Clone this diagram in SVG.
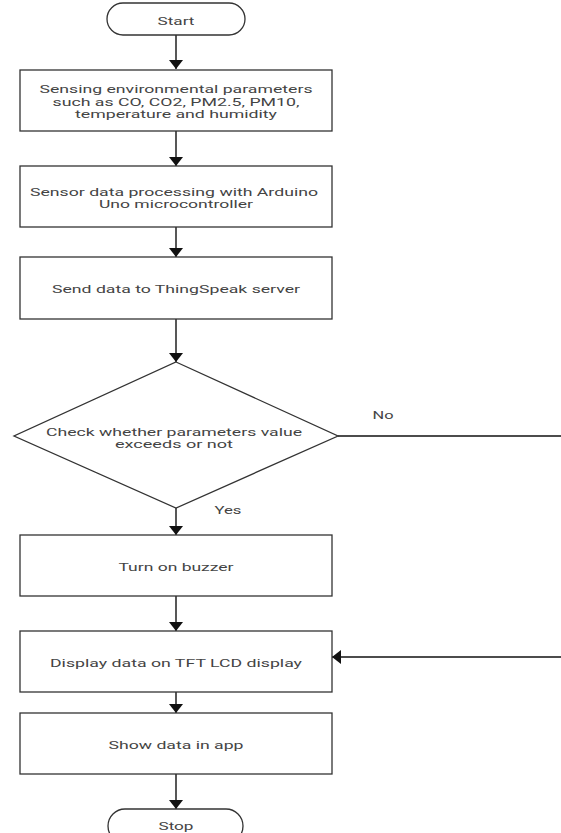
<svg xmlns="http://www.w3.org/2000/svg" width="561" height="833" viewBox="0 0 561 833">
<style>
.n{fill:#fff;stroke:#333;stroke-width:1.3}
.t{font-family:Roboto,"Liberation Sans",sans-serif;font-size:11.5px;fill:#444;text-anchor:middle}
.c{stroke:#111;stroke-width:1.4;fill:none}
</style>
<defs>
<marker id="ah" markerUnits="userSpaceOnUse" markerWidth="9" markerHeight="14" refX="9" refY="7" orient="auto" viewBox="0 0 9 14">
<path d="M0,0 L9,7 L0,14 Z" fill="#111"/>
</marker>
</defs>
<rect width="561" height="833" fill="#fff"/>
<g id="connectors">
<line class="c" x1="176" y1="35" x2="176" y2="69" marker-end="url(#ah)"/>
<line class="c" x1="176" y1="131" x2="176" y2="166" marker-end="url(#ah)"/>
<line class="c" x1="176" y1="227" x2="176" y2="257" marker-end="url(#ah)"/>
<line class="c" x1="176" y1="319" x2="176" y2="362" marker-end="url(#ah)"/>
<line class="c" x1="176" y1="508" x2="176" y2="535" marker-end="url(#ah)"/>
<line class="c" x1="176" y1="596" x2="176" y2="631" marker-end="url(#ah)"/>
<line class="c" x1="176" y1="692" x2="176" y2="713" marker-end="url(#ah)"/>
<line class="c" x1="176" y1="774" x2="176" y2="809" marker-end="url(#ah)"/>
<line class="c" x1="338" y1="436" x2="561" y2="436" stroke="#555"/>
<line class="c" x1="561" y1="657" x2="332" y2="657" marker-end="url(#ah)"/>
<text class="t" x="383" y="419" textLength="21" lengthAdjust="spacingAndGlyphs">No</text>
<text class="t" x="228" y="514" textLength="27" lengthAdjust="spacingAndGlyphs">Yes</text>
</g>
<g id="start">
<rect class="n" x="107" y="3" width="138" height="32" rx="16"/>
<text class="t" x="176" y="25" textLength="37" lengthAdjust="spacingAndGlyphs">Start</text>
</g>
<g id="sensing">
<rect class="n" x="20" y="70" width="312" height="61"/>
<text class="t" x="176" y="93" textLength="273" lengthAdjust="spacingAndGlyphs">Sensing environmental parameters</text>
<text class="t" x="176" y="105.5" textLength="247" lengthAdjust="spacingAndGlyphs">such as CO, CO2, PM2.5, PM10,</text>
<text class="t" x="176" y="118" textLength="202" lengthAdjust="spacingAndGlyphs">temperature and humidity</text>
</g>
<g id="processing">
<rect class="n" x="20" y="166" width="312" height="61"/>
<text class="t" x="174" y="195.5" textLength="288" lengthAdjust="spacingAndGlyphs">Sensor data processing with Arduino</text>
<text class="t" x="176" y="208" textLength="154" lengthAdjust="spacingAndGlyphs">Uno microcontroller</text>
</g>
<g id="send">
<rect class="n" x="20" y="257" width="312" height="62"/>
<text class="t" x="176" y="293" textLength="248" lengthAdjust="spacingAndGlyphs">Send data to ThingSpeak server</text>
</g>
<g id="check">
<polygon class="n" points="176,362 338,436 176,508 14,436"/>
<text class="t" x="174" y="435.5" textLength="256" lengthAdjust="spacingAndGlyphs">Check whether parameters value</text>
<text class="t" x="174" y="447.5" textLength="118" lengthAdjust="spacingAndGlyphs">exceeds or not</text>
</g>
<g id="buzzer">
<rect class="n" x="20" y="535" width="312" height="61"/>
<text class="t" x="176" y="570.5" textLength="115" lengthAdjust="spacingAndGlyphs">Turn on buzzer</text>
</g>
<g id="display">
<rect class="n" x="20" y="631" width="312" height="61"/>
<text class="t" x="176" y="667" textLength="252" lengthAdjust="spacingAndGlyphs">Display data on TFT LCD display</text>
</g>
<g id="app">
<rect class="n" x="20" y="713" width="312" height="61"/>
<text class="t" x="176" y="749" textLength="135" lengthAdjust="spacingAndGlyphs">Show data in app</text>
</g>
<g id="stop">
<rect class="n" x="108" y="809" width="135" height="34" rx="17"/>
<text class="t" x="176" y="830" textLength="35" lengthAdjust="spacingAndGlyphs">Stop</text>
</g>
</svg>
